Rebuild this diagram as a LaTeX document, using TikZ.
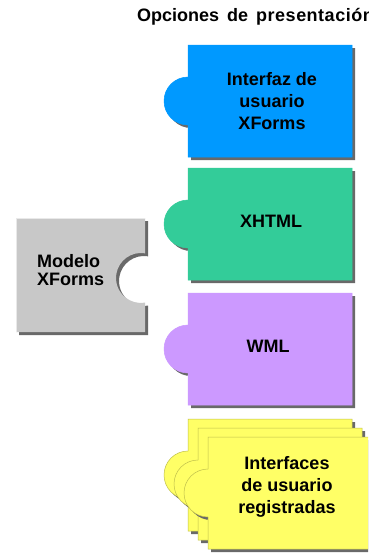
\documentclass[tikz,border=0pt]{standalone}
\usepackage{fontspec}
\setmainfont{Liberation Sans}
\definecolor{azul}{RGB}{0,153,255}
\definecolor{verde}{RGB}{51,204,153}
\definecolor{lila}{RGB}{204,153,255}
\definecolor{gris}{RGB}{200,200,200}
\definecolor{amarillo}{RGB}{255,255,102}
\definecolor{sombra}{RGB}{105,105,105}
\tikzset{
  etiqueta/.style={font=\bfseries\fontsize{18}{22}\selectfont,align=center,inner sep=0pt},
}
% pieza con pestaña a la izquierda: #1,#2 esquina sup. izq., #3 relleno, #4 borde
\newcommand{\Pieza}[4]{%
	\begin{scope}[shift={(#1,#2)}]
		\fill[sombra] (3,3) -- (167,3) -- (167,115) -- (3,115) -- (3,83)
		arc[start angle=270,end angle=90,radius=24pt] -- cycle;
		\filldraw[fill=#3,draw=#4,line width=0.5pt] (0,0) -- (164,0) -- (164,112) -- (0,112) -- (0,80)
		arc[start angle=270,end angle=90,radius=24pt] -- cycle;
	\end{scope}%
}

\begin{document}
\begin{tikzpicture}[x=1pt,y=-1pt]
	\useasboundingbox (0,0) rectangle (368,554);
	\clip (0,0) rectangle (368,554);
	\fill[white] (0,0) rectangle (368,554);

	% titulo (cortado por el borde derecho)
	\node[anchor=west,inner sep=0pt,font=\bfseries\fontsize{18}{20}\selectfont] (titulo) at (137,17)
	{Opciones\hspace{8pt}de\hspace{8pt}p\kern.5pt r\kern.5pt e\kern.5pt s\kern.5pt e\kern.5pt n\kern.5pt t\kern.5pt a\kern.5pt c\kern.5pt i\kern.5pt ó\kern.5pt n};

	% modelo XForms (con hueco a la derecha)
	\foreach \d/\c in {3/sombra,0/gris}{
		\fill[\c,shift={(\d,\d)}] (16,218) -- (145,218) -- (145,253.3)
		arc[start angle=80.8,end angle=279.2,radius=25pt] -- (145,332) -- (16,332) -- cycle;
	}
	\draw[line width=1pt,color=gris!40!white] (16.5,332) -- (16.5,218.5) -- (145,218.5);

	% opciones
	\Pieza{188}{45}{azul}{azul}
	\Pieza{188}{168}{verde}{verde}
	\Pieza{188}{293}{lila}{lila}

	% interfaces registradas (pila)
	\Pieza{188}{419}{amarillo}{amarillo!75!black}
	\Pieza{198}{428}{amarillo}{amarillo!75!black}
	\Pieza{208}{437}{amarillo}{amarillo!75!black}

	% textos
	\node[etiqueta,align=left,anchor=west,font=\bfseries\fontsize{18}{17.5}\selectfont] (modelo) at (37,270) {Modelo\\XForms};
	\node[etiqueta] (interfaz) at (272,101) {Interfaz de\\usuario\\XForms};
	\node[etiqueta] (xhtml) at (271,221) {XHTML};
	\node[etiqueta] (wml) at (268,346) {WML};
	\node[etiqueta] (registradas) at (287,487) {Interfaces\\de usuario\\registradas};
\end{tikzpicture}
\end{document}
